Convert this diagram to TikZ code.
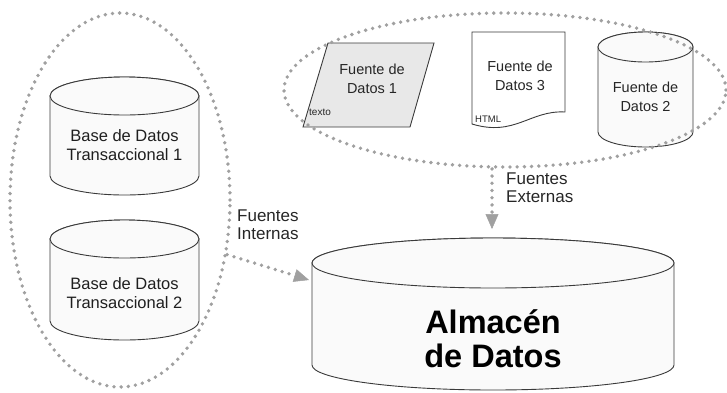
\documentclass[tikz,border=0pt]{standalone}
\usepackage{fontspec}
\setmainfont{Liberation Sans}
\usetikzlibrary{arrows.meta,shapes.geometric}
\definecolor{dotgray}{HTML}{A0A0A0}
\definecolor{edge}{HTML}{3A3A3A}
\begin{document}
\begin{tikzpicture}[x=1pt,y=1pt,
    grupo/.style={ellipse,draw=dotgray,line width=3.8pt,line cap=round,dash pattern=on 0pt off 7.2pt,inner sep=0pt},
    flujo/.style={draw=dotgray,line width=3.8pt,line cap=round,dash pattern=on 0pt off 7.2pt,-{Triangle[length=15pt,width=13pt,line width=0.5pt,fill=dotgray]}},
    forma/.style={draw=edge,line width=0.9pt,fill=gray!4},
    txt/.style={align=center,text=black!88,inner sep=0pt,font=\fontsize{16.5}{18.5}\selectfont},
    txtsm/.style={align=center,text=black!85,inner sep=0pt,font=\fontsize{14.5}{19}\selectfont},
    lbl/.style={align=left,text=black!85,inner sep=0pt,font=\fontsize{17}{18}\selectfont},
  ]
      \useasboundingbox (0,0) rectangle (727,-392);
      % bases de datos transaccionales
      \draw[forma] (50,-96) -- (50,-176) arc[start angle=180,end angle=360,x radius=74.5,y radius=19] -- (199,-96) arc[start angle=0,end angle=180,x radius=74.5,y radius=19] -- cycle;
      \draw[forma] (124.5,-96) ellipse[x radius=74.5,y radius=19];
      \draw[forma] (50,-239) -- (50,-321) arc[start angle=180,end angle=360,x radius=74.5,y radius=19] -- (199,-239) arc[start angle=0,end angle=180,x radius=74.5,y radius=19] -- cycle;
      \draw[forma] (124.5,-239) ellipse[x radius=74.5,y radius=19];
      \node[txt] (bd1) at (124.5,-145) {Base de Datos\\Transaccional 1};
      \node[txt] (bd2) at (124.5,-293) {Base de Datos\\Transaccional 2};
      % fuentes externas
      \draw[forma,fill=gray!18] (328,-43) -- (434,-43) -- (410,-127) -- (303,-127) -- cycle;
      \draw[forma,fill=white] (472,-32) -- (565,-32) -- (565,-112) .. controls (530,-110) and (515,-137) .. (472,-124) -- cycle;
      \draw[forma] (598,-47) -- (598,-132) arc[start angle=180,end angle=360,x radius=47.5,y radius=15] -- (693,-47) arc[start angle=0,end angle=180,x radius=47.5,y radius=15] -- cycle;
      \draw[forma] (645.5,-47) ellipse[x radius=47.5,y radius=15];
      \node[txtsm] (f1) at (372,-79) {Fuente de\\Datos 1};
      \node[txtsm] (f3) at (520,-76) {Fuente de\\Datos 3};
      \node[txtsm] (f2) at (645.5,-97) {Fuente de\\Datos 2};
      \node[anchor=base west,inner sep=0pt,text=black!85,font=\fontsize{10}{10}\selectfont] (tx) at (309,-115) {texto};
      \node[anchor=base west,inner sep=0pt,text=black!85,font=\fontsize{9.5}{10}\selectfont] (html) at (475,-122) {HTML};
      % almacen
      \draw[forma] (312,-263) -- (312,-365) arc[start angle=180,end angle=360,x radius=181,y radius=25] -- (674,-263) arc[start angle=0,end angle=180,x radius=181,y radius=25] -- cycle;
      \draw[forma] (493,-263) ellipse[x radius=181,y radius=25];
      \node[align=center,inner sep=0pt,font=\fontsize{32.5}{34}\selectfont\bfseries] (alm) at (493,-338.5) {Almacén\\de Datos};
      \coordinate (almw) at (309,-280);
      \coordinate (almn) at (492,-229);
      % grupos
      \node[grupo,minimum width=220pt,minimum height=374pt] (internas) at (120,-200) {};
      \node[grupo,minimum width=442pt,minimum height=154pt] (externas) at (505,-90) {};
      \draw[flujo] (internas.-27) -- (almw);
      \draw[flujo] (externas.south -| almn) -- (almn);
      \node[lbl,anchor=west] (lint) at (237,-224.5) {Fuentes\\Internas};
      \node[lbl,anchor=west] (lext) at (506,-187.5) {Fuentes\\Externas};
\end{tikzpicture}
\end{document}
